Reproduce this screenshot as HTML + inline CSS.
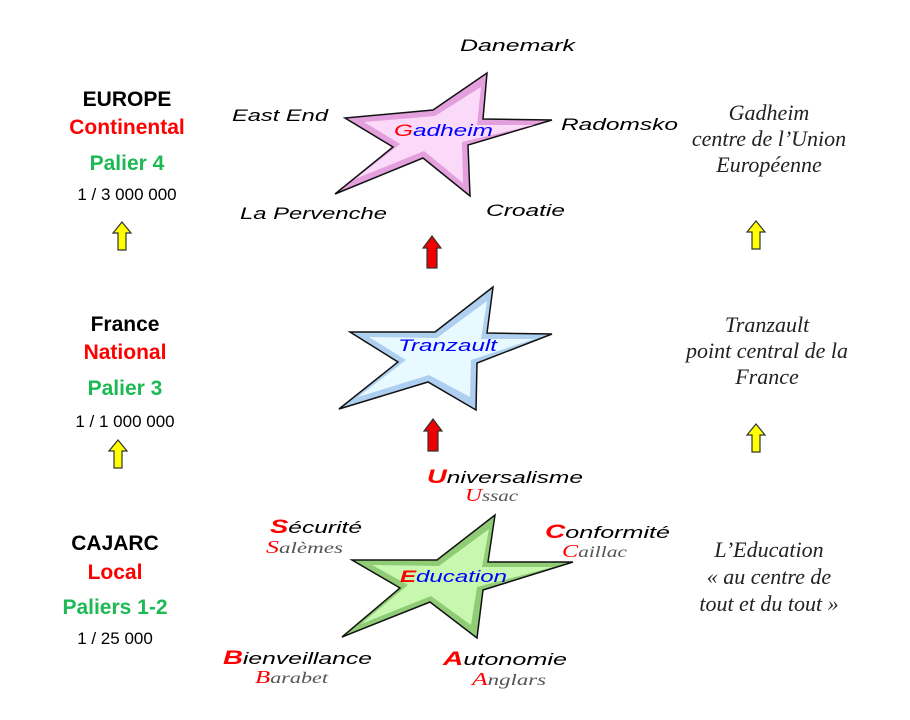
<!DOCTYPE html>
<html><head><meta charset="utf-8"><style>
body{margin:0;background:#fff}
svg{display:block}
.l{font-family:"Liberation Sans",sans-serif;font-weight:bold;text-anchor:middle}
.s{font-family:"Liberation Sans",sans-serif;font-style:italic;font-size:17px}
.r{font-family:"Liberation Serif",serif;font-style:italic;font-size:22px;fill:#222;text-anchor:middle}
.v{font-family:"Liberation Serif",serif;font-style:italic;font-size:16px;fill:#555}
.n{font-family:"Liberation Sans",sans-serif;font-size:17px;text-anchor:middle}
.red{fill:#f00}
</style></head><body>
<svg width="910" height="720" viewBox="0 0 910 720" xmlns="http://www.w3.org/2000/svg">
<defs>
<g id="ya"><path d="M0,-14 L9,-3 L4,-3 L4,14 L-4,14 L-4,-3 L-9,-3 Z" fill="#ff0" stroke="#333" stroke-width="1.2"/></g>
<g id="ra"><path d="M0,-16 L9,-4 L5,-4 L5,16 L-5,16 L-5,-4 L-9,-4 Z" fill="#e00" stroke="#333" stroke-width="1.2"/></g>
</defs>
<text class="l" x="127" y="106" font-size="21" fill="#000">EUROPE</text>
<text class="l" x="127" y="134" font-size="21" fill="#f00">Continental</text>
<text class="l" x="127" y="170" font-size="21" fill="#1db954">Palier 4</text>
<text class="n" x="127" y="200">1 / 3 000 000</text>
<use href="#ya" x="122" y="236"/>
<text class="l" x="125" y="331" font-size="21" fill="#000">France</text>
<text class="l" x="125" y="359" font-size="21" fill="#f00">National</text>
<text class="l" x="125" y="395" font-size="21" fill="#1db954">Palier 3</text>
<text class="n" x="125" y="427">1 / 1 000 000</text>
<use href="#ya" x="118" y="454"/>
<text class="l" x="115" y="550" font-size="21" fill="#000">CAJARC</text>
<text class="l" x="115" y="579" font-size="21" fill="#f00">Local</text>
<text class="l" x="115" y="614" font-size="21" fill="#1db954">Paliers 1-2</text>
<text class="n" x="115" y="644">1 / 25 000</text>
<text class="r" x="769" y="120">Gadheim</text>
<text class="r" x="769" y="146">centre de l’Union</text>
<text class="r" x="769" y="172">Européenne</text>
<use href="#ya" x="756" y="235"/>
<text class="r" x="767" y="332">Tranzault</text>
<text class="r" x="767" y="358">point central de la</text>
<text class="r" x="767" y="384">France</text>
<use href="#ya" x="756" y="438"/>
<text class="r" x="769" y="557">L’Education</text>
<text class="r" x="769" y="584">« au centre de</text>
<text class="r" x="769" y="611">tout et du tout »</text>
<path d="M487,73 L483,119 L552,120 L468,145 L470,196 L423,158 L335,194 L393,147 L345,118 L433,110 Z" fill="#e3a0dc" stroke="#111" stroke-width="1.5"/>
<path d="M481,87 L477,125 L534,125 L462,142 L463,183 L424,151 L355,179 L400,144 L364,122 L435,116 Z" fill="#fbd9f8"/>
<text x="394" y="136" font-family="Liberation Sans,sans-serif" font-style="italic" font-size="17" fill="#00f" textLength="99" lengthAdjust="spacingAndGlyphs"><tspan fill="#f00">G</tspan>adheim</text>
<text class="s" x="460" y="51" textLength="115" lengthAdjust="spacingAndGlyphs">Danemark</text>
<text class="s" x="232" y="121" textLength="96" lengthAdjust="spacingAndGlyphs">East End</text>
<text class="s" x="561" y="130" textLength="117" lengthAdjust="spacingAndGlyphs">Radomsko</text>
<text class="s" x="240" y="219" textLength="147" lengthAdjust="spacingAndGlyphs">La Pervenche</text>
<text class="s" x="486" y="216" textLength="79" lengthAdjust="spacingAndGlyphs">Croatie</text>
<use href="#ra" x="432" y="252"/>
<path d="M493,287 L487,333 L552,334 L477,363 L476,410 L428,382 L339,409 L398,362 L350,332 L435,332 Z" fill="#aecff0" stroke="#111" stroke-width="1.5"/>
<path d="M487,301 L481,339 L534,339 L471,360 L470,397 L429,375 L358,397 L406,360 L369,337 L437,338 Z" fill="#e8faff"/>
<text x="398" y="351" font-family="Liberation Sans,sans-serif" font-style="italic" font-size="17" fill="#00f" textLength="99" lengthAdjust="spacingAndGlyphs">Tranzault</text>
<use href="#ra" x="433" y="435"/>
<path d="M495,515 L488,562 L573,562 L483,590 L477,638 L430,602 L342,637 L400,588 L352,560 L437,560 Z" fill="#90cc76" stroke="#111" stroke-width="1.5"/>
<path d="M489,529 L482,567 L553,567 L477,587 L471,625 L431,596 L361,624 L408,585 L372,565 L439,566 Z" fill="#c8f7b0"/>
<text x="400" y="582" font-family="Liberation Sans,sans-serif" font-style="italic" font-size="17" fill="#00f" textLength="107" lengthAdjust="spacingAndGlyphs"><tspan fill="#f00" font-weight="bold">E</tspan>ducation</text>
<text class="s" x="427" y="483" textLength="156" lengthAdjust="spacingAndGlyphs"><tspan class="red" font-weight="bold" font-size="19">U</tspan>niversalisme</text>
<text class="v" x="465" y="501" textLength="53" lengthAdjust="spacingAndGlyphs"><tspan class="red" font-size="18">U</tspan>ssac</text>
<text class="s" x="270" y="533" textLength="92" lengthAdjust="spacingAndGlyphs"><tspan class="red" font-weight="bold" font-size="19">S</tspan>écurité</text>
<text class="v" x="266" y="553" textLength="77" lengthAdjust="spacingAndGlyphs"><tspan class="red" font-size="18">S</tspan>alèmes</text>
<text class="s" x="545" y="538" textLength="125" lengthAdjust="spacingAndGlyphs"><tspan class="red" font-weight="bold" font-size="19">C</tspan>onformité</text>
<text class="v" x="562" y="557" textLength="65" lengthAdjust="spacingAndGlyphs"><tspan class="red" font-size="18">C</tspan>aillac</text>
<text class="s" x="223" y="664" textLength="149" lengthAdjust="spacingAndGlyphs"><tspan class="red" font-weight="bold" font-size="19">B</tspan>ienveillance</text>
<text class="v" x="255" y="683" textLength="73" lengthAdjust="spacingAndGlyphs"><tspan class="red" font-size="18">B</tspan>arabet</text>
<text class="s" x="443" y="665" textLength="124" lengthAdjust="spacingAndGlyphs"><tspan class="red" font-weight="bold" font-size="19">A</tspan>utonomie</text>
<text class="v" x="472" y="685" textLength="74" lengthAdjust="spacingAndGlyphs"><tspan class="red" font-size="18">A</tspan>nglars</text>
</svg>
</body></html>
